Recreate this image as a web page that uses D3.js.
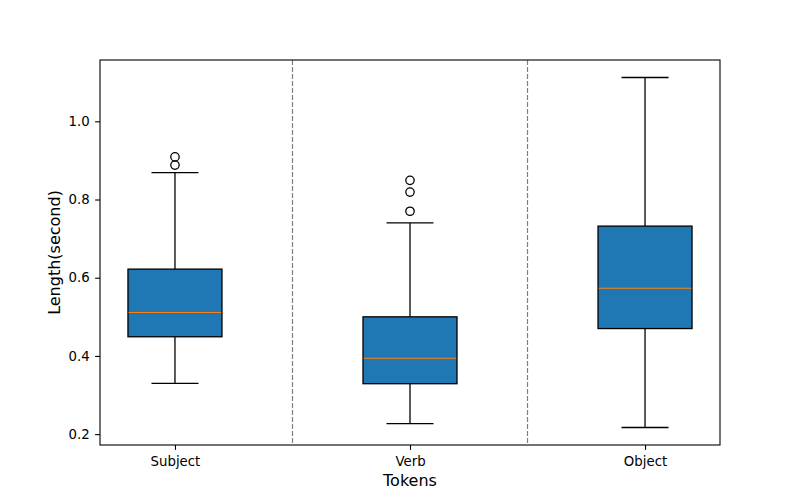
<!DOCTYPE html>
<html>
<head>
<meta charset="utf-8">
<script src="https://cdn.jsdelivr.net/npm/d3@7"></script>
<style>
  body { margin: 0; background: #fff; }
  svg text { font-family: "DejaVu Sans", sans-serif; fill: #000; }
</style>
</head>
<body>
<script>
// values
var categories = ['Subject', 'Verb', 'Object'];
var whiskerLow = [0.330, 0.227, 0.217];
var q1 = [0.449, 0.329, 0.470];
var median = [0.511, 0.394, 0.573];
var q3 = [0.622, 0.500, 0.732];
var whiskerHigh = [0.869, 0.740, 1.112];
var outliers = [[0.888, 0.909], [0.770, 0.819, 0.849], []];
var yTicks = [0.2, 0.4, 0.6, 0.8, 1.0];

var width = 800, height = 500;
var margin = { top: 60, right: 80, bottom: 55, left: 100 };
var lw = 1.3;

var boxes = categories.map(function(c, i) {
  return {
    name: c, pos: i + 1,
    lo: whiskerLow[i], q1: q1[i], med: median[i], q3: q3[i], hi: whiskerHigh[i],
    fliers: outliers[i]
  };
});

var svg = d3.select('body').append('svg')
    .attr('width', width)
    .attr('height', height);

var x = d3.scaleLinear()
    .domain([0.681, 3.319])
    .range([margin.left, width - margin.right]);

var yMin = d3.min(whiskerLow), yMax = d3.max(whiskerHigh);
var pad = (yMax - yMin) * 0.05;
var y = d3.scaleLinear()
    .domain([yMin - pad, yMax + pad])
    .range([height - margin.bottom, margin.top]);

var plot = svg.append('g');

// separators between groups
plot.selectAll('line.sep')
    .data([1.5, 2.5])
    .enter()
    .append('line')
    .attr('class', 'sep')
    .attr('x1', function(d) { return x(d); })
    .attr('x2', function(d) { return x(d); })
    .attr('y1', margin.top)
    .attr('y2', height - margin.bottom)
    .attr('stroke', '#808080')
    .attr('stroke-width', 1.2)
    .attr('stroke-dasharray', '5,2');

var boxW = 0.4, capW = 0.2;

var g = plot.selectAll('g.box')
    .data(boxes)
    .enter()
    .append('g')
    .attr('class', 'box');

// whiskers
g.append('line')
    .attr('x1', function(d) { return x(d.pos); })
    .attr('x2', function(d) { return x(d.pos); })
    .attr('y1', function(d) { return y(d.lo); })
    .attr('y2', function(d) { return y(d.q1); })
    .attr('stroke', '#000')
    .attr('stroke-width', lw);
g.append('line')
    .attr('x1', function(d) { return x(d.pos); })
    .attr('x2', function(d) { return x(d.pos); })
    .attr('y1', function(d) { return y(d.q3); })
    .attr('y2', function(d) { return y(d.hi); })
    .attr('stroke', '#000')
    .attr('stroke-width', lw);

// caps
['lo', 'hi'].forEach(function(k) {
  g.append('line')
      .attr('x1', function(d) { return x(d.pos - capW / 2); })
      .attr('x2', function(d) { return x(d.pos + capW / 2); })
      .attr('y1', function(d) { return y(d[k]); })
      .attr('y2', function(d) { return y(d[k]); })
      .attr('stroke', '#000')
      .attr('stroke-width', lw);
});

// boxes
g.append('rect')
    .attr('x', function(d) { return x(d.pos - boxW / 2); })
    .attr('width', function(d) { return x(d.pos + boxW / 2) - x(d.pos - boxW / 2); })
    .attr('y', function(d) { return y(d.q3); })
    .attr('height', function(d) { return y(d.q1) - y(d.q3); })
    .attr('fill', '#1f77b4')
    .attr('stroke', '#000')
    .attr('stroke-width', lw);

// medians
g.append('line')
    .attr('x1', function(d) { return x(d.pos - boxW / 2) + 0.7; })
    .attr('x2', function(d) { return x(d.pos + boxW / 2) - 0.7; })
    .attr('y1', function(d) { return y(d.med); })
    .attr('y2', function(d) { return y(d.med); })
    .attr('stroke', '#ff7f0e')
    .attr('stroke-width', 1.1);

// outliers
g.selectAll('circle')
    .data(function(d) { return d.fliers.map(function(v) { return { pos: d.pos, v: v }; }); })
    .enter()
    .append('circle')
    .attr('cx', function(d) { return x(d.pos); })
    .attr('cy', function(d) { return y(d.v); })
    .attr('r', 4.2)
    .attr('fill', 'none')
    .attr('stroke', '#000')
    .attr('stroke-width', lw);

// axes
var xAxis = d3.axisBottom(x)
    .tickValues([1, 2, 3])
    .tickFormat(function(d) { return categories[d - 1]; })
    .tickSize(4.9)
    .tickPadding(6.5);
var yAxis = d3.axisLeft(y)
    .tickValues(yTicks)
    .tickFormat(d3.format('.1f'))
    .tickSize(4.9)
    .tickPadding(5.5);

var gx = svg.append('g')
    .attr('transform', 'translate(0,' + (height - margin.bottom) + ')')
    .call(xAxis);
var gy = svg.append('g')
    .attr('transform', 'translate(' + margin.left + ',0)')
    .call(yAxis);

[gx, gy].forEach(function(a) {
  a.select('.domain').remove();
  a.selectAll('.tick line').attr('stroke', '#000').attr('stroke-width', 1.1);
  a.selectAll('.tick text')
      .style('font-family', '"DejaVu Sans", sans-serif')
      .style('font-size', '13.3px')
      .attr('fill', '#000');
});

// frame
svg.append('rect')
    .attr('x', margin.left)
    .attr('y', margin.top)
    .attr('width', width - margin.left - margin.right)
    .attr('height', height - margin.top - margin.bottom)
    .attr('fill', 'none')
    .attr('stroke', '#000')
    .attr('stroke-width', 1.1);

svg.append('text')
    .attr('x', x(2))
    .attr('y', 486)
    .attr('text-anchor', 'middle')
    .style('font-size', '16px')
    .text('Tokens');

svg.append('text')
    .attr('transform', 'translate(60,' + ((margin.top + height - margin.bottom) / 2) + ') rotate(-90)')
    .attr('text-anchor', 'middle')
    .style('font-size', '16px')
    .text('Length(second)');
</script>
</body>
</html>
